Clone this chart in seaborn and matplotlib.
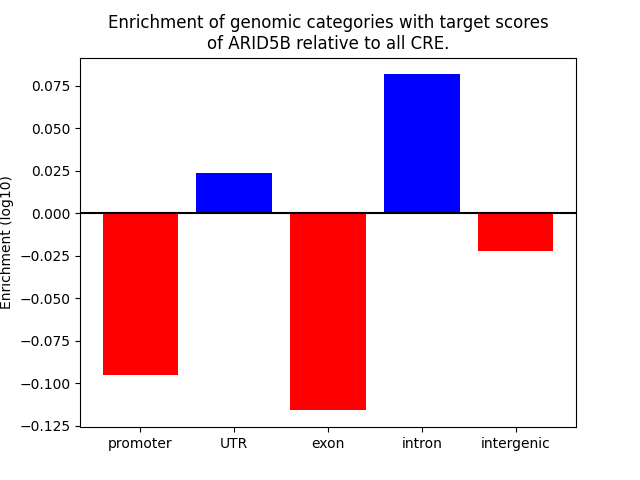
import matplotlib
matplotlib.use("Agg")
import matplotlib.pyplot as plt
import seaborn as sns
import pandas as pd

categories = ["promoter", "UTR", "exon", "intron", "intergenic"]
enrichment = [-0.0953, 0.0235, -0.1159, 0.0818, -0.0224]

df = pd.DataFrame({"category": categories, "enrichment": enrichment})
df["sign"] = ["pos" if v > 0 else "neg" for v in df["enrichment"]]

fig, ax = plt.subplots(figsize=(6.4, 4.8), dpi=100)
sns.barplot(data=df, x="category", y="enrichment", hue="sign",
            palette={"pos": "blue", "neg": "red"}, dodge=False,
            legend=False, width=0.8, saturation=1, ax=ax)
ax.axhline(0, color="black")
ax.set_xlim(-0.64, 4.64)
ax.set_ylim(-0.1259, 0.0917)
ax.set_xlabel("")
ax.set_ylabel("Enrichment (log10)")
ax.set_title("Enrichment of genomic categories with target scores\nof ARID5B relative to all CRE.")
plt.savefig("out.png")
